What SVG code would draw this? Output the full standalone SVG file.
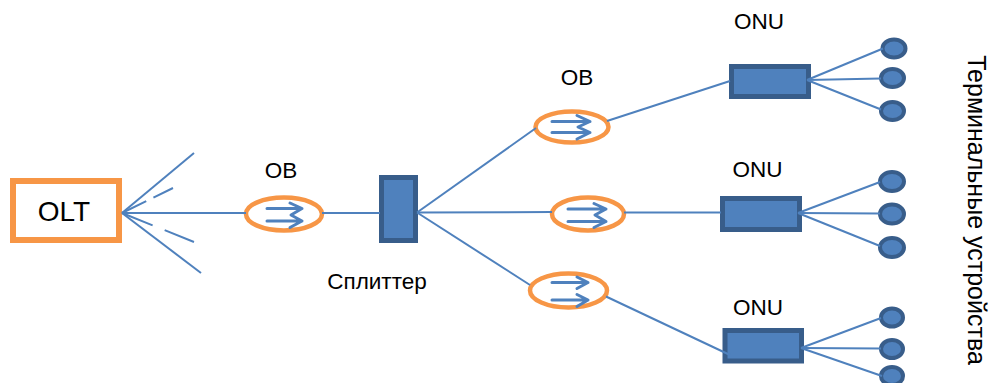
<svg xmlns="http://www.w3.org/2000/svg" width="995" height="383" viewBox="0 0 995 383">
  <defs>
    <style>
      .lbl { font-family: "Liberation Sans", Arial, sans-serif; font-size: 22.5px; fill: #000; text-anchor: middle; }
      .olt { fill: #fff; stroke: #F79646; stroke-width: 6; }
      .ob { fill: none; stroke: #F79646; stroke-width: 4.5; }
      .arr { fill: none; stroke: #4F81BD; stroke-width: 3; stroke-linecap: round; stroke-linejoin: round; }
      .box { fill: #4F81BD; stroke: #385D8A; stroke-width: 5; }
      .term { fill: #4F81BD; stroke: #385D8A; stroke-width: 4; }
      .wire { fill: none; stroke: #4F81BD; stroke-width: 2; }
    </style>
  </defs>

  <!-- OLT -->
  <g id="olt">
    <rect class="olt" x="13" y="181" width="106" height="59"/>
    <text class="lbl" x="64" y="221" style="font-size:28px">OLT</text>
  </g>

  <!-- optical fibre 1 -->
  <g id="ob1">
    <ellipse class="ob" cx="284" cy="214" rx="38" ry="16.5"/>
    <path class="arr" d="M267 208.5H302M267 221H302M290 203L302 208.5L291 215L302 221L290 227.5"/>
    <text class="lbl" x="281" y="178">ОВ</text>
  </g>

  <!-- splitter -->
  <g id="splitter">
    <rect class="box" x="381.5" y="177.5" width="34" height="63"/>
    <text class="lbl" x="377" y="288.5">Сплиттер</text>
  </g>

  <!-- optical fibre, upper branch -->
  <g id="ob2">
    <ellipse class="ob" cx="572" cy="127" rx="36.5" ry="15.5"/>
    <path class="arr" d="M552 121.5H590M552 132.5H590M577 115.5L590 121.5L578 127L590 132.5L577 139"/>
    <text class="lbl" x="577" y="85">ОВ</text>
  </g>

  <!-- optical fibre, middle branch -->
  <g id="ob3">
    <ellipse class="ob" cx="588" cy="214" rx="36" ry="16.5"/>
    <path class="arr" d="M568 209H606M568 221.5H606M594 203.5L606 209L595 215L606 221.5L594 227.5"/>
  </g>

  <!-- optical fibre, lower branch -->
  <g id="ob4">
    <ellipse class="ob" cx="568.5" cy="290.5" rx="38.5" ry="17"/>
    <path class="arr" d="M552 282.5H588M552 300H588M577 277L588 282.5L577 288.5M577 294.5L588 300L577 306.5"/>
  </g>

  <!-- ONUs -->
  <g id="onu1">
    <rect class="box" x="731.5" y="66.5" width="77" height="30"/>
    <text class="lbl" x="759" y="29">ONU</text>
  </g>
  <g id="onu2">
    <rect class="box" x="722.5" y="198.5" width="77" height="31"/>
    <text class="lbl" x="757.5" y="177">ONU</text>
  </g>
  <g id="onu3">
    <rect class="box" x="725" y="330.5" width="76.5" height="30.5"/>
    <text class="lbl" x="758" y="315">ONU</text>
  </g>

  <!-- terminal devices -->
  <g id="term1a"><ellipse class="term" cx="894" cy="48.5" rx="11.5" ry="9"/></g>
  <g id="term1b"><ellipse class="term" cx="892.5" cy="78" rx="11.5" ry="9"/></g>
  <g id="term1c"><ellipse class="term" cx="892.5" cy="111" rx="11.5" ry="9"/></g>
  <g id="term2a"><ellipse class="term" cx="892" cy="181.5" rx="12" ry="9.5"/></g>
  <g id="term2b"><ellipse class="term" cx="892" cy="214" rx="12" ry="9.5"/></g>
  <g id="term2c"><ellipse class="term" cx="892" cy="247.5" rx="12" ry="9.5"/></g>
  <g id="term3a"><ellipse class="term" cx="892" cy="317.5" rx="11" ry="9"/></g>
  <g id="term3b"><ellipse class="term" cx="892" cy="349" rx="11" ry="9"/></g>
  <g id="term3c"><ellipse class="term" cx="892" cy="376" rx="11" ry="9"/></g>

  <g id="terminals-label">
    <text class="lbl" transform="translate(968 210) rotate(90)" style="font-size:25px">Терминальные устройства</text>
  </g>

  <!-- connectors -->
  <g id="connectors">
    <!-- OLT fan-out -->
    <line class="wire" x1="122" y1="213" x2="194" y2="153"/>
    <line class="wire" x1="122" y1="213" x2="173" y2="188" stroke-dasharray="27 8"/>
    <line class="wire" x1="122" y1="213" x2="194" y2="242" stroke-dasharray="33 13"/>
    <line class="wire" x1="122" y1="213" x2="201" y2="273"/>
    <!-- trunk -->
    <line class="wire" x1="122" y1="213" x2="246" y2="213"/>
    <line class="wire" x1="322" y1="213" x2="380" y2="213"/>
    <!-- splitter outputs -->
    <line class="wire" x1="417" y1="212.5" x2="536" y2="128"/>
    <line class="wire" x1="417" y1="212.5" x2="552" y2="212"/>
    <line class="wire" x1="417" y1="212.5" x2="530" y2="285"/>
    <!-- fibres to ONUs -->
    <line class="wire" x1="607" y1="121" x2="730" y2="81"/>
    <line class="wire" x1="624" y1="212.5" x2="721" y2="212.5"/>
    <line class="wire" x1="606" y1="296.5" x2="730" y2="355"/>
    <!-- ONU 1 drops -->
    <line class="wire" x1="807" y1="80" x2="883" y2="48.5"/>
    <line class="wire" x1="807" y1="80" x2="881" y2="78.5"/>
    <line class="wire" x1="807" y1="80" x2="881" y2="109.5"/>
    <!-- ONU 2 drops -->
    <line class="wire" x1="798" y1="213" x2="880" y2="182"/>
    <line class="wire" x1="798" y1="213" x2="880" y2="213.5"/>
    <line class="wire" x1="798" y1="213" x2="880" y2="246"/>
    <!-- ONU 3 drops -->
    <line class="wire" x1="801" y1="348" x2="881" y2="318"/>
    <line class="wire" x1="801" y1="348" x2="881" y2="348.5"/>
    <line class="wire" x1="801" y1="348" x2="882" y2="376"/>
  </g>
</svg>
